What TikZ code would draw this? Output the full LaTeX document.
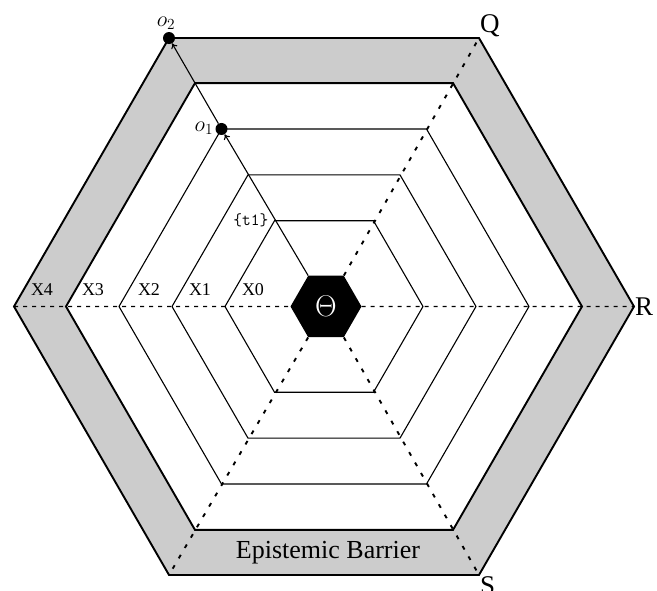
\RequirePackage{fix-cm}
\documentclass[tikz,border=0pt]{standalone}
\usepackage{fontspec}
\setmainfont{Liberation Serif}
\usetikzlibrary{shapes.geometric,calc,arrows.meta}
\tikzset{
  ring/.style={line width=1.1pt},
  thickring/.style={line width=1.9pt},
  spokeh/.style={line width=1.2pt, dash pattern=on 4pt off 5pt},
  spoked/.style={line width=1.9pt, dash pattern=on 4pt off 8pt},
  ringlabel/.style={font=\fontsize{18}{20}\selectfont, inner sep=0pt},
  cornerlabel/.style={font=\fontsize{27}{30}\selectfont, inner sep=1pt},
  mathlabel/.style={font=\fontsize{22}{24}\selectfont, inner sep=1pt},
  dot/.style={circle, fill=black, minimum size=12pt, inner sep=0pt},
  flow/.style={line width=1.1pt, -{To[length=5pt,width=7pt]}},
  band/.style={fill=black!20},
}
\newcommand{\hexpath}[1]{(0:#1) -- (60:#1) -- (120:#1) -- (180:#1) -- (240:#1) -- (300:#1) -- cycle}
\begin{document}
\begin{tikzpicture}[x=1pt,y=1pt]
\useasboundingbox (0,0) rectangle (657,591);
\coordinate (C) at (324,284.5);
\begin{scope}[shift={(C)}]
  % grey band
  \fill[band, even odd rule] \hexpath{310} \hexpath{258};
  % rings
  \draw[thickring] \hexpath{310};
  \draw[thickring] \hexpath{258};
  \draw[ring] \hexpath{205};
  \draw[ring] \hexpath{152};
  \draw[ring] \hexpath{99};
  % vertex coordinates
  \coordinate (vL) at (180:310);
  \coordinate (vR) at (0:310);
  \coordinate (vQ) at (60:310);
  \coordinate (vS) at (300:310);
  \coordinate (vBL) at (240:310);
\end{scope}
% centre node
\node[regular polygon, regular polygon sides=6, minimum size=71pt, inner sep=0pt,
      fill=black, text=white, font=\fontsize{30}{32}\selectfont] (theta) at ($(C)+(2,0)$) {$\Theta$};
% spokes
\draw[spokeh] (vL) -- (theta.180);
\draw[spokeh] (theta.0) -- (vR);
\draw[spoked] (theta.60) -- (vQ);
\draw[spoked] (theta.300) -- (vS);
\draw[spoked] (theta.240) -- (vBL);
% points
\node[dot] (o1) at ($(C)+(120:205)$) {};
\node[dot] (o2) at ($(C)+(120:310)$) {};
\draw[flow] (theta.120) -- (o1);
\draw[flow] (o1) -- (o2);
% labels
\node[mathlabel, anchor=south] (lo2) at ($(o2.north)+(-3,1)$) {$o_2$};
\node[mathlabel, anchor=east] (lo1) at ($(o1.west)+(-1,1)$) {$o_1$};
\node[font=\ttfamily\fontsize{17}{19}\selectfont, anchor=east, inner sep=1pt] (lt1) at ($(C)+(120:99)+(-5,0)$) {\{t1\}};
\node[ringlabel] (x4) at (42,301) {X4};
\node[ringlabel] (x3) at (93,301) {X3};
\node[ringlabel] (x2) at (149,301) {X2};
\node[ringlabel] (x1) at (200,301) {X1};
\node[ringlabel] (x0) at (253,301) {X0};
\node[cornerlabel, anchor=south west] (lq) at (vQ) {Q};
\node[cornerlabel, anchor=west] (lr) at (vR) {R};
\node[cornerlabel, anchor=north west] (ls) at (vS) {S};
\node[font=\fontsize{26}{28}\selectfont] (eb) at (328,38.5) {Epistemic Barrier};
\end{tikzpicture}
\end{document}
